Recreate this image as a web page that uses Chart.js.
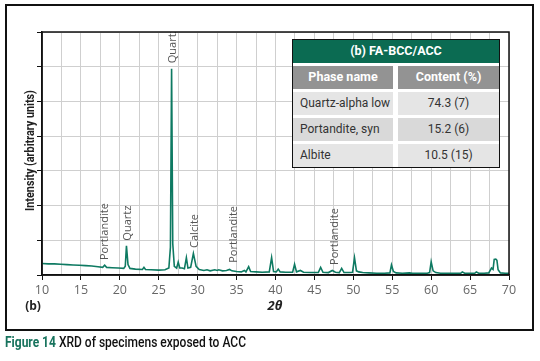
<!DOCTYPE html>
<html lang="en">
<head>
<meta charset="UTF-8">
<title>XRD of specimens exposed to ACC</title>
<script src="https://cdn.jsdelivr.net/npm/chart.js@4.4.1/dist/chart.umd.min.js"></script>
<style>
  body { margin: 0; background: #fff; }
  #wrap { position: relative; width: 540px; height: 361px; overflow: hidden; font-family: "Open Sans", sans-serif; }
  #chart { position: absolute; left: 0; top: 0; }
  #frame { position: absolute; left: 5px; top: 4px; width: 525px; height: 323px; border: 2px solid #111; }
  #ytitle { position: absolute; left: 30px; top: 150px; white-space: nowrap;
            font: bold 12.5px Roboto, sans-serif; color: #222; }
  #xtitle { position: absolute; left: 275px; top: 305px; transform: translate(-50%, -50%);
            font: bold italic 13px "Open Sans", sans-serif; color: #222; }
  #panel { position: absolute; left: 33px; top: 305px; transform: translate(-50%, -50%);
           font: bold 12px "Open Sans", sans-serif; color: #222; }
  #caption { position: absolute; left: 5px; top: 333px; white-space: nowrap; transform-origin: 0 0;
             font: 500 15.5px Roboto, sans-serif; color: #111; }
  #caption b { color: #17735d; font-weight: bold; }
  #tbl { position: absolute; left: 292px; top: 39px; width: 206px; border: 1.5px solid #111;
         display: grid; grid-template-columns: 100px 101px; column-gap: 5px; row-gap: 3.5px;
         font: 12px Roboto, sans-serif; color: #333; background: #fff; }
  #tbl div { height: 22.5px; line-height: 22.5px; white-space: nowrap; }
  #tbl .h { grid-column: 1 / 3; background: #0b6b52; color: #fff; font-weight: bold; text-align: center; font-size: 12.5px; }
  #tbl .g { background: #939393; color: #fff; font-weight: bold; text-align: center; font-size: 12.5px; }
  #tbl .c1 { padding-left: 7px; }
  #tbl .c2 { text-align: center; }
  #tbl .r1, #tbl .r3 { background: #e5e5e5; }
  #tbl .r2 { background: #d9d9d9; }
</style>
</head>
<body>
<div id="wrap">
  <canvas id="chart" width="540" height="361"></canvas>
  <div id="frame"></div>
  <div id="ytitle">Intensity (arbitrary units)</div>
  <div id="xtitle">2θ</div>
  <div id="panel">(b)</div>
  <div id="tbl"></div>
  <div id="caption"><b>Figure 14</b> XRD of specimens exposed to ACC</div>
</div>

<script>
const twoTheta = [
  10.0, 10.8, 11.6, 12.4, 13.2, 14.0, 14.8, 15.6, 16.4, 17.2, 17.8, 18.05, 18.3, 19.0, 19.8,
  20.5, 20.7, 20.85, 21.05, 21.3, 22.0, 22.9, 23.1, 23.3, 24.0, 25.0, 25.8, 26.3, 26.5, 26.65,
  26.8, 27.0, 27.3, 27.5, 27.7, 28.0, 28.3, 28.55, 28.75, 29.1, 29.45, 29.8, 30.2, 30.8, 31.2,
  31.6, 32.2, 32.5, 32.7, 33.2, 33.7, 34.1, 34.4, 35.0, 35.6, 36.0, 36.2, 36.55, 36.8, 37.5,
  38.3, 39.2, 39.5, 39.75, 40.1, 40.35, 40.6, 41.3, 42.2, 42.45, 42.7, 43.2, 43.6, 44.5, 45.5,
  45.8, 46.1, 46.8, 47.3, 47.7, 48.2, 48.5, 48.8, 49.5, 49.9, 50.15, 50.4, 50.7, 51.2, 52.0,
  53.0, 54.0, 54.7, 54.9, 55.15, 55.5, 56.3, 57.2, 57.6, 58.5, 59.5, 59.8, 60.0, 60.25, 60.6,
  61.2, 62.0, 63.0, 63.8, 64.0, 64.3, 65.0, 65.6, 65.8, 66.1, 66.8, 67.4, 67.75, 67.95, 68.1,
  68.3, 68.45, 68.6, 68.9, 69.5, 70.0
];
const intensity = [
  0.33, 0.32, 0.32, 0.31, 0.30, 0.29, 0.28, 0.27, 0.26, 0.24, 0.22, 0.28, 0.22, 0.21, 0.20,
  0.19, 0.25, 0.84, 0.30, 0.19, 0.17, 0.16, 0.22, 0.16, 0.15, 0.14, 0.15, 0.20, 0.80, 5.94,
  0.90, 0.25, 0.20, 0.37, 0.20, 0.20, 0.18, 0.50, 0.20, 0.22, 0.62, 0.25, 0.16, 0.13, 0.15,
  0.12, 0.15, 0.13, 0.15, 0.12, 0.13, 0.16, 0.12, 0.10, 0.09, 0.13, 0.09, 0.24, 0.10, 0.09,
  0.08, 0.09, 0.50, 0.10, 0.09, 0.17, 0.09, 0.08, 0.08, 0.31, 0.09, 0.13, 0.08, 0.07, 0.07,
  0.22, 0.08, 0.07, 0.13, 0.08, 0.07, 0.19, 0.07, 0.07, 0.08, 0.50, 0.12, 0.09, 0.07, 0.06,
  0.05, 0.05, 0.06, 0.29, 0.10, 0.06, 0.05, 0.06, 0.05, 0.05, 0.05, 0.07, 0.38, 0.12, 0.07,
  0.05, 0.05, 0.05, 0.05, 0.09, 0.05, 0.05, 0.05, 0.09, 0.05, 0.05, 0.06, 0.20, 0.16, 0.45,
  0.46, 0.42, 0.15, 0.06, 0.05, 0.05
];

// phase labels written above the peaks
const peakNames = ['Portlandite', 'Quartz', 'Quartz', 'Calcite', 'Portlandite', 'Portlandite'];
const peakPos = [18.1, 21.0, 26.75, 29.6, 34.6, 47.6];
const peakLabelStart = [0.43, 0.99, 6.1, 0.78, 0.35, 0.29];

// quantification table
const tableTitle = '(b) FA-BCC/ACC';
const tableHeads = ['Phase name', 'Content (%)'];
const phaseNames = ['Quartz-alpha low', 'Portandite, syn', 'Albite'];
const phaseContent = ['74.3 (7)', '15.2 (6)', '10.5 (15)'];

// build table
const tbl = document.getElementById('tbl');
let html = '<div class="h">' + tableTitle + '</div>';
html += '<div class="g">' + tableHeads[0] + '</div><div class="g">' + tableHeads[1] + '</div>';
phaseNames.forEach((n, i) => {
  html += '<div class="c1 r' + (i + 1) + '">' + n + '</div><div class="c2 r' + (i + 1) + '">' + phaseContent[i] + '</div>';
});
tbl.innerHTML = html;

// squeeze the condensed texts to the widths they have in the figure
const yt = document.getElementById('ytitle');
const ys = 121 / yt.offsetWidth;
yt.style.left = (30 - yt.offsetWidth / 2) + 'px';
yt.style.top = (150 - yt.offsetHeight / 2) + 'px';
yt.style.transform = 'rotate(-90deg) scaleX(' + ys + ')';
const cap = document.getElementById('caption');
cap.style.transform = 'scaleX(' + (241 / cap.offsetWidth) + ')';

const points = twoTheta.map((x, i) => ({ x: x, y: intensity[i] }));

// frame round the plot and the phase labels
const extras = {
  id: 'extras',
  afterDatasetsDraw(chart) {
    const { ctx, chartArea: a, scales } = chart;
    ctx.save();
    ctx.beginPath();
    ctx.rect(a.left, a.top, a.right - a.left, a.bottom - a.top);
    ctx.clip();
    ctx.fillStyle = '#555';
    ctx.font = '11px "Open Sans", sans-serif';
    ctx.textAlign = 'left';
    ctx.textBaseline = 'middle';
    peakNames.forEach((name, i) => {
      ctx.save();
      ctx.translate(scales.x.getPixelForValue(peakPos[i]), scales.y.getPixelForValue(peakLabelStart[i]));
      ctx.rotate(-Math.PI / 2);
      ctx.fillText(name, 0, 0);
      ctx.restore();
    });
    ctx.restore();
    ctx.save();
    ctx.strokeStyle = '#111';
    ctx.lineWidth = 1.5;
    ctx.strokeRect(a.left, a.top, a.right - a.left, a.bottom - a.top);
    ctx.restore();
  }
};

new Chart(document.getElementById('chart'), {
  type: 'line',
  data: {
    datasets: [{
      data: points,
      borderColor: '#0e7a62',
      borderWidth: 1.6,
      pointRadius: 0,
      tension: 0
    }]
  },
  options: {
    responsive: false,
    animation: false,
    layout: { padding: { left: 37, top: 32, right: 31, bottom: 60 } },
    plugins: { legend: { display: false }, tooltip: { enabled: false } },
    scales: {
      x: {
        type: 'linear',
        min: 10,
        max: 70,
        ticks: {
          stepSize: 2.5,
          color: '#666',
          font: { family: '"Open Sans", sans-serif', size: 12.5 },
          maxRotation: 0,
          autoSkip: false,
          callback: v => (v % 5 === 0 ? v : '')
        },
        grid: {
          color: '#cfcfcf',
          tickLength: 5,
          tickColor: c => (c.tick && c.tick.value % 5 === 0 ? '#111' : 'rgba(0,0,0,0)')
        },
        border: { color: '#111', width: 1.5 }
      },
      y: {
        min: 0,
        max: 7,
        ticks: { stepSize: 1, display: false },
        grid: { color: '#cfcfcf', tickLength: 5, tickColor: '#111' },
        border: { color: '#111', width: 1.5 }
      }
    }
  },
  plugins: [extras]
});
</script>
</body>
</html>
